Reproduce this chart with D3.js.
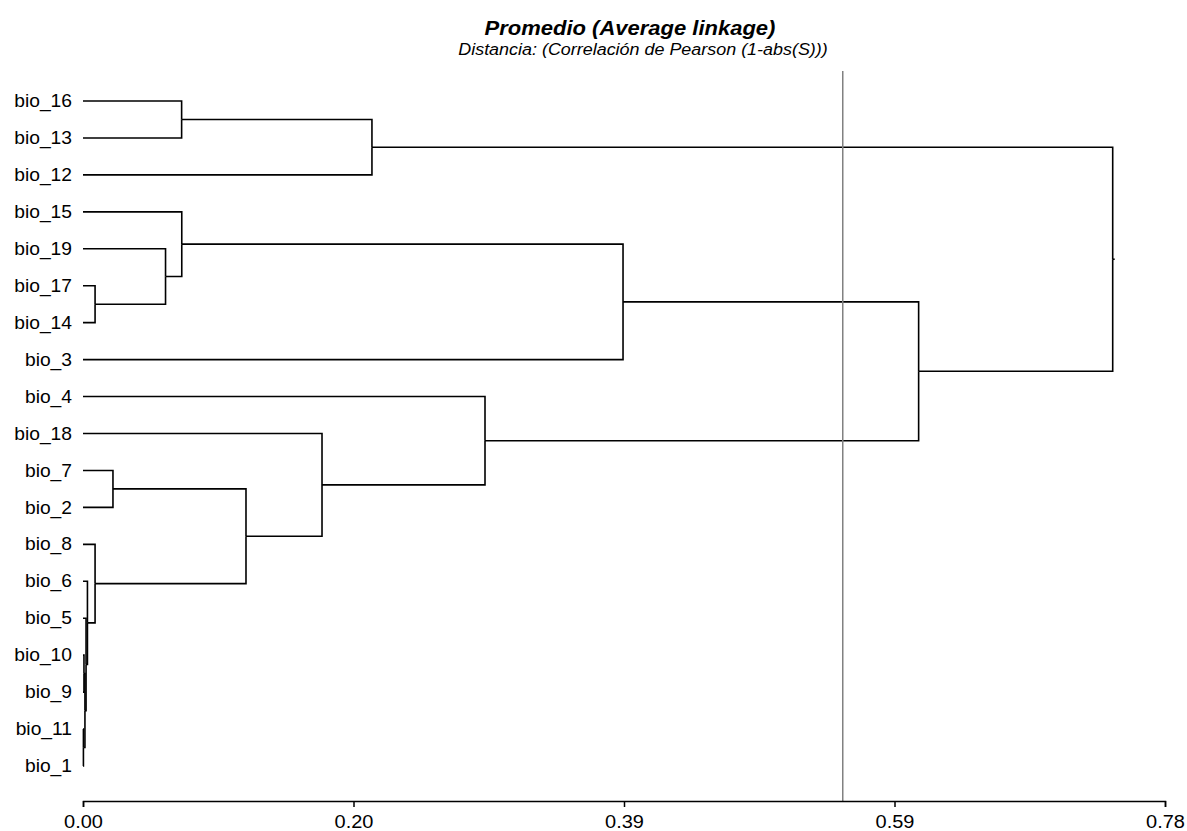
<!DOCTYPE html>
<html lang="es">
<head>
  <meta charset="UTF-8">
  <title>Promedio (Average linkage)</title>
  <style>
    body { margin: 0; background: #fff; }
    svg { display: block; }
    text { font-family: "Liberation Sans", Arial, sans-serif; fill: #000; }
    .branch { fill: none; stroke: #000; stroke-width: 1.6; }
    .cut { stroke: #808080; stroke-width: 1.5; }
    .axis path, .axis line { stroke: #000; stroke-width: 1.5; }
  </style>
</head>
<body>
<svg class="chart"></svg>

<script src="https://d3js.org/d3.v7.min.js"></script>
<script>
  // leaf order, top to bottom
  const leafLabels = ['bio_16', 'bio_13', 'bio_12', 'bio_15', 'bio_19', 'bio_17', 'bio_14', 'bio_3',
    'bio_4', 'bio_18', 'bio_7', 'bio_2', 'bio_8', 'bio_6', 'bio_5', 'bio_10', 'bio_9', 'bio_11', 'bio_1'];

  // merge steps: a leaf name or the index of an earlier step
  const mergePairs = [
    ['bio_11', 'bio_1'],   // 0
    ['bio_10', 'bio_9'],   // 1
    [1, 0],                // 2
    ['bio_5', 2],          // 3
    ['bio_6', 3],          // 4
    ['bio_17', 'bio_14'],  // 5
    ['bio_8', 4],          // 6
    ['bio_7', 'bio_2'],    // 7
    ['bio_19', 5],         // 8
    ['bio_16', 'bio_13'],  // 9
    ['bio_15', 8],         // 10
    [7, 6],                // 11
    ['bio_18', 11],        // 12
    [9, 'bio_12'],         // 13
    ['bio_4', 12],         // 14
    [10, 'bio_3'],         // 15
    [15, 14],              // 16
    [13, 16]               // 17
  ];
  const mergeHeights = [0.0003, 0.0007, 0.0014, 0.0022, 0.0032, 0.0087, 0.0087, 0.0216, 0.0595,
    0.0711, 0.0712, 0.1175, 0.1723, 0.2083, 0.2898, 0.3893, 0.6024, 0.7423];

  const cutHeight = 0.5477;
  const tickValues = [0, 0.195, 0.39, 0.585, 0.78];
  const tickLabels = ['0.00', '0.20', '0.39', '0.59', '0.78'];

  const width = 1187;
  const height = 831;

  const svg = d3.select('.chart')
    .attr('width', width)
    .attr('height', height);

  const x = d3.scaleLinear().domain([0, 0.78]).range([83, 1165]);
  const y = d3.scalePoint().domain(leafLabels).range([101, 766]);
  const axisY = 801;
  // the reference text is a little wider than its height suggests
  const stretch = 'scale(1.1,1)';

  // build the tree from the merge table
  function build(ref) {
    if (typeof ref === 'string') return { name: ref, h: 0 };
    return { h: mergeHeights[ref], children: mergePairs[ref].map(build) };
  }
  const root = d3.hierarchy(build(mergePairs.length - 1));
  root.eachAfter(d => {
    d.py = d.children ? d3.mean(d.children, c => c.py) : y(d.data.name);
  });

  // elbow links: child -> across to parent height -> to parent's y
  svg.append('g')
    .selectAll('path')
    .data(root.links())
    .join('path')
    .attr('class', 'branch')
    .attr('d', l => `M${x(l.target.data.h)},${l.target.py}H${x(l.source.data.h)}V${l.source.py}`);

  // little stub at the root
  svg.append('path')
    .attr('class', 'branch')
    .attr('d', `M${x(root.data.h)},${root.py}h2`);

  // leaf labels
  svg.append('g')
    .selectAll('g')
    .data(root.leaves())
    .join('g')
    .attr('transform', d => `translate(72,${d.py}) ${stretch}`)
    .append('text')
    .attr('dy', '0.35em')
    .attr('text-anchor', 'end')
    .style('font-size', '17.5px')
    .text(d => d.data.name);

  // cut line
  svg.append('line')
    .attr('class', 'cut')
    .attr('x1', x(cutHeight)).attr('x2', x(cutHeight))
    .attr('y1', 71).attr('y2', axisY);

  // x axis
  const axis = svg.append('g')
    .attr('class', 'axis')
    .attr('transform', `translate(0,${axisY})`)
    .call(d3.axisBottom(x)
      .tickValues(tickValues)
      .tickFormat((d, i) => tickLabels[i])
      .tickSizeOuter(0)
      .tickSize(6)
      .tickPadding(8));
  axis.selectAll('text')
    .attr('transform', 'scale(1.08,1)')
    .style('font-size', '18.5px')
    .style('font-family', '"Liberation Sans", Arial, sans-serif');

  // titles
  svg.append('g')
    .attr('transform', `translate(630,35) ${stretch}`)
    .append('text')
    .attr('text-anchor', 'middle')
    .style('font-size', '20px')
    .style('font-weight', 'bold')
    .style('font-style', 'italic')
    .text('Promedio (Average linkage)');

  svg.append('g')
    .attr('transform', `translate(643,55) ${stretch}`)
    .append('text')
    .attr('text-anchor', 'middle')
    .style('font-size', '16.3px')
    .style('font-style', 'italic')
    .text('Distancia: (Correlación de Pearson (1-abs(S)))');
</script>
</body>
</html>
